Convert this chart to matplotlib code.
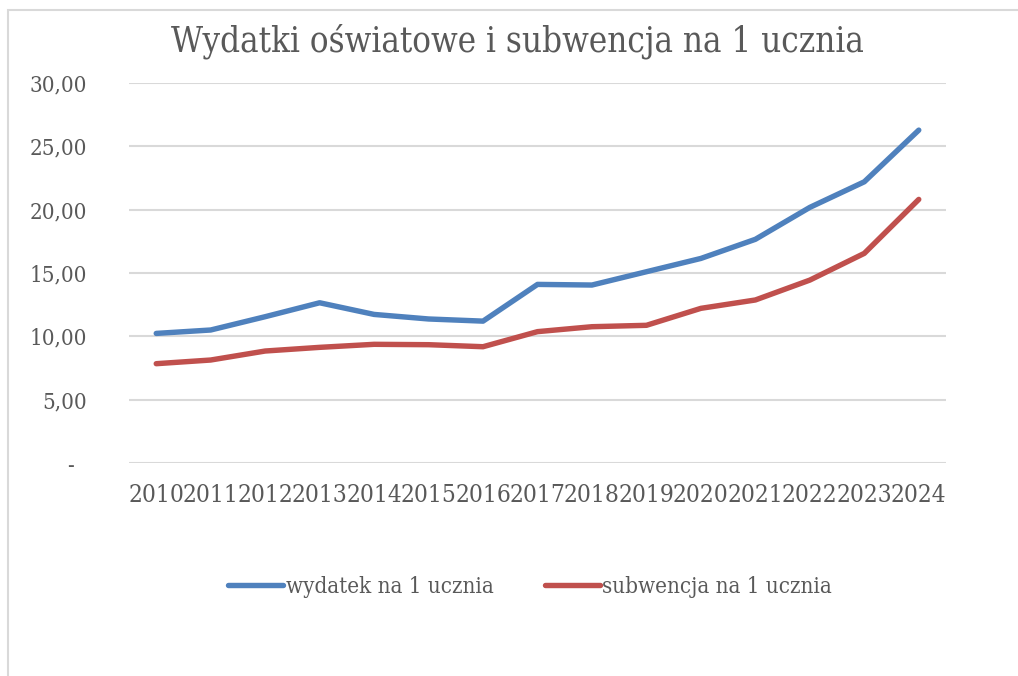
import matplotlib
matplotlib.use("Agg")
import matplotlib.pyplot as plt
from matplotlib.ticker import FuncFormatter, MultipleLocator
from matplotlib.patches import Rectangle

years = ["2010", "2011", "2012", "2013", "2014", "2015", "2016", "2017",
         "2018", "2019", "2020", "2021", "2022", "2023", "2024"]
wydatek = [10.23, 10.50, 11.55, 12.65, 11.73, 11.37, 11.20, 14.10,
           14.05, 15.10, 16.15, 17.66, 20.18, 22.20, 26.28]
subwencja = [7.84, 8.13, 8.84, 9.13, 9.37, 9.34, 9.18, 10.37,
             10.76, 10.87, 12.21, 12.87, 14.44, 16.55, 20.81]

title = "Wydatki oświatowe i subwencja na 1 ucznia"
label_w = "wydatek na 1 ucznia"
label_s = "subwencja na 1 ucznia"

plt.rcParams['font.family'] = ['DejaVu Serif', 'Liberation Serif']
plt.rcParams['font.stretch'] = 'condensed'
txt = "#595959"

W, H = 1018, 676
fig = plt.figure(figsize=(W / 100, H / 100), dpi=100)
fig.patch.set_facecolor("white")

# outer chart border
fig.add_artist(Rectangle((8 / W, -0.01), 1.02, 1 - 10 / H + 0.01, transform=fig.transFigure,
                         fill=False, edgecolor="#D9D9D9", linewidth=1.5))

ax = fig.add_axes([129 / W, 1 - 463 / H, (946 - 129) / W, (463 - 83) / H])
x = list(range(len(years)))
ax.plot(x, wydatek, color="#4F81BD", linewidth=3.9, solid_capstyle="round",
        solid_joinstyle="round", label=label_w)
ax.plot(x, subwencja, color="#C0504D", linewidth=3.9, solid_capstyle="round",
        solid_joinstyle="round", label=label_s)

ax.set_xlim(-0.5, len(years) - 0.5)
ax.set_ylim(0, 30)
ax.yaxis.set_major_locator(MultipleLocator(5))
ax.yaxis.set_major_formatter(FuncFormatter(
    lambda v, p: "-  " if abs(v) < 1e-9 else f"{v:.2f}".replace(".", ",")))
ax.set_xticks(x)
ax.set_xticklabels(years)

for s in ax.spines.values():
    s.set_visible(False)
ax.grid(axis="y", color="#D9D9D9", linewidth=1.5)
ax.set_axisbelow(True)
ax.tick_params(axis="both", length=0, colors=txt)
ax.tick_params(axis="y", pad=30, labelsize=16)
ax.tick_params(axis="x", pad=15, labelsize=17.6)
for lab in ax.get_xticklabels() + ax.get_yticklabels():
    lab.set_color(txt)

fig.text(517 / W, 1 - 41 / H, title, ha="center", va="center", fontsize=25, color=txt)

leg = fig.legend(loc="center", bbox_to_anchor=(530 / W, 1 - 587 / H), ncol=2,
                 frameon=False, fontsize=16, handlelength=2.5, handletextpad=0.1,
                 columnspacing=2.3)
for t in leg.get_texts():
    t.set_color(txt)

fig.savefig("out.png", dpi=100, facecolor="white")
